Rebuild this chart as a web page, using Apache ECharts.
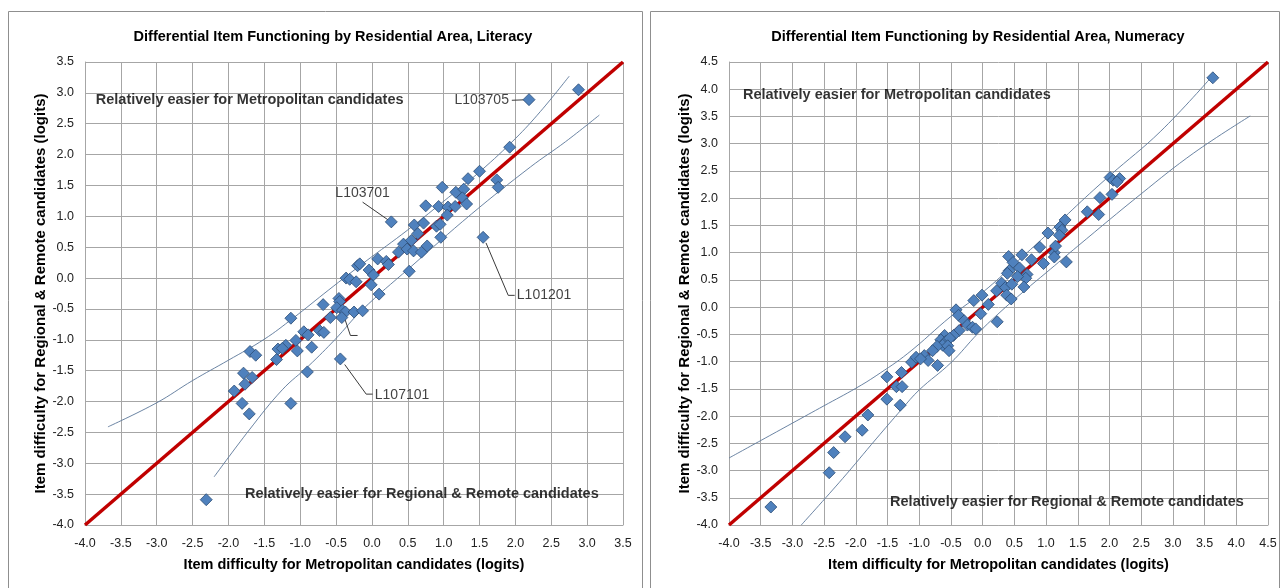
<!DOCTYPE html>
<html>
<head>
<meta charset="utf-8">
<title>Differential Item Functioning by Residential Area</title>
<script src="https://cdn.jsdelivr.net/npm/echarts@6/dist/echarts.min.js"></script>
<style>
  html, body { margin: 0; padding: 0; background: #fff; }
  #chart { width: 1282px; height: 588px; }
</style>
</head>
<body>
<div id="chart"></div>
<script>
// ---- Item difficulties [Metropolitan, Regional & Remote] in logits ----
const literacyItems = [
  [2.88, 3.05], [2.19, 2.89], [1.92, 2.12], [1.50, 1.73], [1.74, 1.59], [1.76, 1.47],
  [1.34, 1.61], [0.98, 1.47], [1.17, 1.39], [1.28, 1.44], [1.26, 1.30], [1.32, 1.20],
  [0.75, 1.17], [0.93, 1.16], [1.06, 1.15], [1.16, 1.16], [1.05, 1.02], [0.59, 0.86],
  [0.72, 0.89], [0.90, 0.84], [0.95, 0.87], [0.64, 0.72], [0.96, 0.66], [0.27, 0.91],
  [1.55, 0.66], [0.44, 0.55], [0.55, 0.61], [0.37, 0.42], [0.49, 0.47], [0.58, 0.44],
  [0.69, 0.42], [0.77, 0.52], [0.52, 0.11], [0.08, 0.31], [0.20, 0.27], [0.23, 0.22],
  [-0.20, 0.20], [-0.17, 0.23], [-0.04, 0.13], [0.02, 0.05], [-0.36, 0.00], [-0.31, -0.02],
  [-0.22, -0.06], [-0.01, -0.11], [0.10, -0.26], [-0.68, -0.43], [-0.46, -0.33], [-0.45, -0.38],
  [-0.49, -0.48], [-0.41, -0.52], [-0.37, -0.55], [-0.25, -0.55], [-0.13, -0.53], [-0.42, -0.64],
  [-0.58, -0.64], [-1.13, -0.65], [-0.73, -0.85], [-0.67, -0.88], [-0.95, -0.87], [-0.89, -0.92],
  [-1.06, -1.01], [-1.20, -1.09], [-0.84, -1.12], [-1.04, -1.18], [-1.33, -1.32], [-1.31, -1.15],
  [-1.25, -1.14], [-1.70, -1.19], [-1.62, -1.25], [-0.90, -1.52], [-0.44, -1.31], [-1.79, -1.54],
  [-1.67, -1.61], [-1.77, -1.72], [-1.92, -1.83], [-1.81, -2.03], [-1.71, -2.20], [-1.13, -2.03],
  [-2.31, -3.59]
];

const numeracyItems = [
  [3.63, 4.21], [2.01, 2.38], [2.06, 2.33], [2.16, 2.36], [2.12, 2.30], [2.04, 2.07],
  [1.85, 2.01], [1.65, 1.75], [1.83, 1.70], [1.30, 1.60], [1.22, 1.47], [1.25, 1.41],
  [1.21, 1.32], [1.03, 1.36], [0.90, 1.10], [1.13, 1.00], [1.15, 1.12], [1.13, 0.92],
  [1.32, 0.83], [0.96, 0.80], [0.77, 0.87], [0.62, 0.96], [0.41, 0.93], [0.48, 0.82],
  [0.42, 0.67], [0.39, 0.62], [0.58, 0.72], [0.70, 0.60], [0.68, 0.53], [0.55, 0.56],
  [0.65, 0.37], [0.30, 0.44], [0.36, 0.36], [0.46, 0.42], [0.22, 0.30], [0.38, 0.22],
  [0.45, 0.15], [0.23, -0.27], [0.09, 0.05], [-0.01, 0.22], [-0.14, 0.12], [-0.03, -0.12],
  [-0.42, -0.05], [-0.38, -0.15], [-0.29, -0.25], [-0.24, -0.33], [-0.16, -0.37], [-0.11, -0.40],
  [-0.37, -0.43], [-0.46, -0.52], [-0.60, -0.52], [-0.66, -0.60], [-0.58, -0.63], [-0.52, -0.57],
  [-0.63, -0.70], [-0.72, -0.72], [-0.55, -0.71], [-0.53, -0.80], [-0.79, -0.80], [-0.92, -0.89],
  [-0.86, -0.98], [-0.71, -1.07], [-1.12, -1.01], [-1.05, -0.92], [-0.98, -0.95], [-1.28, -1.20],
  [-1.51, -1.28], [-1.36, -1.46], [-1.27, -1.46], [-1.30, -1.80], [-1.51, -1.69], [-1.81, -1.98],
  [-1.90, -2.26], [-2.17, -2.38], [-2.35, -2.67], [-2.42, -3.04], [-3.34, -3.67]
];

// ---- Control bands ----
const literacyUpperBand = [
  [-3.68, -2.41], [-3.0, -2.02], [-2.5, -1.66], [-2.0, -1.33], [-1.5, -0.99], [-1.1, -0.65],
  [-0.6, -0.19], [-0.1, 0.26], [0.5, 0.78], [1.07, 1.31], [1.52, 1.74], [2.0, 2.26],
  [2.35, 2.70], [2.75, 3.27]
];
const literacyLowerBand = [
  [-2.20, -3.22], [-1.71, -2.46], [-1.25, -1.81], [-0.88, -1.42], [-0.51, -0.99], [-0.14, -0.52],
  [0.52, 0.16], [1.39, 1.04], [2.21, 1.80], [2.7, 2.21], [3.17, 2.64]
];
const numeracyUpperBand = [
  [-4.0, -2.77], [-3.5, -2.45], [-3.0, -2.13], [-2.5, -1.81], [-2.0, -1.49], [-1.68, -1.26],
  [-1.18, -0.85], [-0.5, -0.17], [0.03, 0.30], [0.5, 0.79], [1.0, 1.32], [1.48, 1.86],
  [2.01, 2.42], [2.8, 3.22], [3.59, 4.20]
];
const numeracyLowerBand = [
  [-2.86, -4.0], [-2.21, -3.15], [-1.68, -2.42], [-1.28, -1.88], [-1.0, -1.52], [-0.5, -1.02],
  [-0.08, -0.49], [0.24, -0.13], [0.66, 0.30], [1.0, 0.63], [1.5, 1.12], [2.5, 2.08],
  [3.33, 2.83], [4.22, 3.51]
];

// ---- Axis ranges ----
const literacyRange = [-4.0, 3.5];
const numeracyRange = [-4.0, 4.5];
const tickStep = 0.5;

// ---- Item call-outs on the literacy panel: [x, y, text, placement] and their leaders ----
const literacyCallouts = [
  [1.91, 2.88, 'L103705', 'left'],
  [-0.13, 1.38, 'L103701', 'inside'],
  [2.02, -0.28, 'L101201', 'right'],
  [0.04, -1.89, 'L107101', 'right']
];
const literacyLeaders = [
  [[1.95, 2.88], [2.19, 2.89]],
  [[-0.13, 1.23], [0.24, 0.93]],
  [[1.59, 0.57], [1.90, -0.28], [1.99, -0.28]],
  [[-0.38, -1.40], [-0.08, -1.88], [0.01, -1.88]],
  [[-0.39, -0.62], [-0.30, -0.93], [-0.20, -0.93]]
];

// ---- Region notes ----
const literacyNotes = [
  [-3.85, 2.88, 'Relatively easier for Metropolitan candidates'],
  [-1.77, -3.49, 'Relatively easier for Regional & Remote candidates']
];
const numeracyNotes = [
  [-3.78, 3.89, 'Relatively easier for Metropolitan candidates'],
  [-1.46, -3.57, 'Relatively easier for Regional & Remote candidates']
];

const titles = [
  'Differential Item Functioning by Residential Area, Literacy',
  'Differential Item Functioning by Residential Area, Numeracy'
];
const xTitle = 'Item difficulty for Metropolitan candidates (logits)';
const yTitle = 'Item difficulty for Regional & Remote candidates (logits)';

// ---- Styling ----
const FONT = '"Liberation Sans", Arial, sans-serif';
const GRID = '#a6a6a6';
const FRAME = '#8f8f8f';
const MARK_FILL = '#4f81bd';
const MARK_EDGE = '#2c4d75';
const IDENTITY = '#c00000';
const BAND = '#5a7699';

function xAxisFor(idx, range) {
  return {
    type: 'value', gridIndex: idx, min: range[0], max: range[1], interval: tickStep,
    name: xTitle, nameLocation: 'middle', nameGap: 32,
    nameTextStyle: { fontFamily: FONT, fontWeight: 'bold', fontSize: 14.5, color: '#000' },
    axisLine: { show: true, onZero: false, lineStyle: { color: GRID } },
    axisTick: { show: false },
    axisLabel: { formatter: v => v.toFixed(1), fontFamily: FONT, fontSize: 12.5, color: '#222', margin: 12 },
    splitLine: { show: true, lineStyle: { color: GRID, width: 1 } }
  };
}
function yAxisFor(idx, range, gap) {
  return {
    type: 'value', gridIndex: idx, min: range[0], max: range[1], interval: tickStep,
    name: yTitle, nameLocation: 'middle', nameGap: gap, nameRotate: 90,
    nameTextStyle: { fontFamily: FONT, fontWeight: 'bold', fontSize: 15, color: '#000' },
    axisLine: { show: true, onZero: false, lineStyle: { color: GRID } },
    axisTick: { show: false },
    axisLabel: { formatter: v => v.toFixed(1), fontFamily: FONT, fontSize: 12.5, color: '#222', margin: 11 },
    splitLine: { show: true, lineStyle: { color: GRID, width: 1 } }
  };
}

function panelSeries(idx, range, items, upper, lower, notes) {
  const out = [];
  out.push({
    type: 'line', xAxisIndex: idx, yAxisIndex: idx, data: upper, smooth: 0.4,
    symbol: 'none', silent: true, z: 2, lineStyle: { color: BAND, width: 0.9 }
  });
  out.push({
    type: 'line', xAxisIndex: idx, yAxisIndex: idx, data: lower, smooth: 0.4,
    symbol: 'none', silent: true, z: 2, lineStyle: { color: BAND, width: 0.9 }
  });
  out.push({
    type: 'line', xAxisIndex: idx, yAxisIndex: idx,
    data: [[range[0], range[0]], [range[1], range[1]]],
    symbol: 'none', silent: true, z: 3, lineStyle: { color: IDENTITY, width: 3.5 }
  });
  out.push({
    type: 'scatter', xAxisIndex: idx, yAxisIndex: idx, data: items,
    symbol: 'diamond', symbolSize: 12, z: 5,
    itemStyle: { color: MARK_FILL, borderColor: MARK_EDGE, borderWidth: 0.8, opacity: 1 }
  });
  out.push({
    type: 'scatter', xAxisIndex: idx, yAxisIndex: idx, symbolSize: 0, silent: true, z: 6,
    data: notes.map(n => ({ value: [n[0], n[1]], name: n[2] })),
    label: {
      show: true, position: 'right', distance: 0, formatter: p => p.name,
      fontFamily: FONT, fontWeight: 'bold', fontSize: 14.5, color: '#000'
    }
  });
  return out;
}

const series = [
  ...panelSeries(0, literacyRange, literacyItems, literacyUpperBand, literacyLowerBand, literacyNotes),
  ...panelSeries(1, numeracyRange, numeracyItems, numeracyUpperBand, numeracyLowerBand, numeracyNotes)
];

literacyLeaders.forEach(seg => {
  series.push({
    type: 'line', xAxisIndex: 0, yAxisIndex: 0, data: seg, symbol: 'none', silent: true, z: 4,
    lineStyle: { color: '#3a3a3a', width: 1 }
  });
});

series.push({
  type: 'scatter', xAxisIndex: 0, yAxisIndex: 0, symbolSize: 0, silent: true, z: 6,
  data: literacyCallouts.map(c => ({
    value: [c[0], c[1]], name: c[2],
    label: { position: c[3], distance: 0 }
  })),
  label: { show: true, formatter: p => p.name, fontFamily: FONT, fontSize: 14, color: '#111' }
});

const chart = echarts.init(document.getElementById('chart'), null, { renderer: 'canvas' });
chart.setOption({
  animation: false,
  backgroundColor: '#fff',
  title: [
    { text: titles[0], left: 328, top: 24, textAlign: 'center',
      textStyle: { fontFamily: FONT, fontWeight: 'bold', fontSize: 14.5, color: '#000' } },
    { text: titles[1], left: 973, top: 24, textAlign: 'center',
      textStyle: { fontFamily: FONT, fontWeight: 'bold', fontSize: 14.5, color: '#000' } }
  ],
  grid: [
    { left: 85, top: 62, width: 538, height: 463 },
    { left: 729, top: 62, width: 539, height: 463 }
  ],
  xAxis: [xAxisFor(0, literacyRange), xAxisFor(1, numeracyRange)],
  yAxis: [yAxisFor(0, literacyRange, 36), yAxisFor(1, numeracyRange, 37)],
  graphic: [
    { type: 'rect', silent: true, z: -1, shape: { x: 8.5, y: 11.5, width: 634, height: 600 },
      style: { fill: 'none', stroke: FRAME, lineWidth: 1 } },
    { type: 'rect', silent: true, z: -1, shape: { x: 650.5, y: 11.5, width: 629, height: 600 },
      style: { fill: 'none', stroke: FRAME, lineWidth: 1 } }
  ],
  series
});
</script>
</body>
</html>
